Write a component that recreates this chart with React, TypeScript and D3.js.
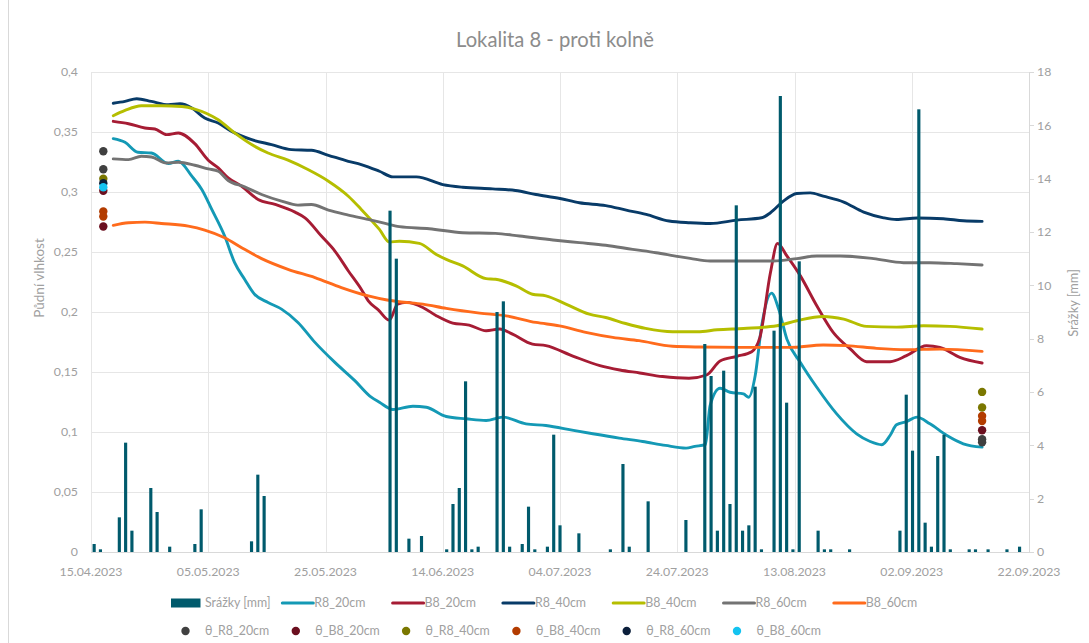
import React from 'react';
import * as d3 from 'd3';

// ---------- data ----------
const TITLE = 'Lokalita 8 - proti kolně';
const Y_LABEL = 'Půdní vlhkost';
const Y2_LABEL = 'Srážky [mm]';

const X_START = '2023-04-15';
const X_END = '2023-09-22';
const X_TICKS = ['2023-04-15', '2023-05-05', '2023-05-25', '2023-06-14', '2023-07-04', '2023-07-24', '2023-08-13', '2023-09-02', '2023-09-22'];
const Y_TICKS = [0, 0.05, 0.1, 0.15, 0.2, 0.25, 0.3, 0.35, 0.4];
const Y2_TICKS = [0, 2, 4, 6, 8, 10, 12, 14, 16, 18];

// precipitation: daily categories 15.04.2023 – 10.09.2023 (secondary category axis)
const PRECIP_FIRST = '2023-04-15';
const PRECIP_LAST = '2023-09-10';
const precipDates = [
  '2023-04-15', '2023-04-16', '2023-04-19', '2023-04-20', '2023-04-21', '2023-04-24', '2023-04-25', '2023-04-27',
  '2023-05-01', '2023-05-02', '2023-05-10', '2023-05-11', '2023-05-12',
  '2023-06-01', '2023-06-02', '2023-06-04', '2023-06-06', '2023-06-10', '2023-06-11', '2023-06-12', '2023-06-13',
  '2023-06-14', '2023-06-15', '2023-06-18', '2023-06-19', '2023-06-20', '2023-06-22', '2023-06-23', '2023-06-24',
  '2023-06-26', '2023-06-27', '2023-06-28', '2023-07-01', '2023-07-06', '2023-07-08', '2023-07-09', '2023-07-12',
  '2023-07-18', '2023-07-21', '2023-07-22', '2023-07-23', '2023-07-24', '2023-07-25', '2023-07-26', '2023-07-27',
  '2023-07-28', '2023-07-29', '2023-07-30', '2023-08-01', '2023-08-02', '2023-08-03', '2023-08-04', '2023-08-05',
  '2023-08-08', '2023-08-09', '2023-08-10', '2023-08-13', '2023-08-21', '2023-08-22', '2023-08-23', '2023-08-24',
  '2023-08-25', '2023-08-26', '2023-08-27', '2023-08-28', '2023-08-29', '2023-09-01', '2023-09-02', '2023-09-04',
  '2023-09-07', '2023-09-09',
];
const precipValues = [
  0.3, 0.1, 1.3, 4.1, 0.8, 2.4, 1.5, 0.2,
  0.3, 1.6, 0.4, 2.9, 2.1,
  12.8, 11.0, 0.5, 0.6, 0.1, 1.8, 2.4, 6.4,
  0.1, 0.2, 9.0, 9.4, 0.2, 0.3, 1.7, 0.1,
  0.2, 4.4, 1.0, 0.7, 0.1, 3.3, 0.2, 1.9,
  1.2, 7.8, 6.6, 0.8, 6.8, 1.8, 13.0, 0.8,
  1.0, 6.2, 0.1, 8.3, 17.1, 5.6, 0.1, 10.9,
  0.8, 0.1, 0.1, 0.1, 0.8, 5.9, 3.8, 16.6,
  1.1, 0.2, 3.6, 4.4, 0.1, 0.1, 0.1, 0.1,
  0.1, 0.2,
];

// soil moisture series: [days after 15.04.2023, value]
const R8_20cm: [number, number][] = [
  [3.8, 0.3445], [5.8, 0.3414], [8, 0.3331], [10.3, 0.3325], [13.2, 0.3237], [14.9, 0.3256], [17.2, 0.3132], [18.9, 0.3021],
  [20.6, 0.2855], [22.8, 0.2633], [24.5, 0.2411], [26.2, 0.2273], [27.9, 0.2148], [30.2, 0.2079], [32.5, 0.2024], [35.3, 0.1913],
  [38.2, 0.1747], [41.6, 0.158], [45, 0.1428], [47.8, 0.129], [49.2, 0.1248], [51.5, 0.1187], [54.9, 0.1215], [57.2, 0.1206],
  [60.6, 0.1129], [64, 0.111], [67.4, 0.1096], [70.2, 0.1124], [74.2, 0.1068], [77.6, 0.1054], [82.3, 0.1013], [85.6, 0.0985],
  [90.1, 0.0949], [94.1, 0.0921], [98, 0.0888], [101.5, 0.0866], [103, 0.088], [104.8, 0.0894], [105.6, 0.122], [107.3, 0.1364],
  [109, 0.1331], [111.3, 0.1317], [112.2, 0.129], [113.3, 0.147], [114.4, 0.1885], [116.1, 0.2157], [117.3, 0.2024], [118.7, 0.1774],
  [121, 0.158], [123.8, 0.1373], [127.2, 0.1151], [130.6, 0.0985], [132.9, 0.0921], [134.9, 0.0894], [136.3, 0.0971], [137.4, 0.106],
  [139.1, 0.1087], [140.9, 0.1124], [143.1, 0.1068], [146, 0.0971], [148.8, 0.0902], [152, 0.0874],
];
const B8_20cm: [number, number][] = [
  [3.8, 0.3589], [6.4, 0.3569], [9.2, 0.3533], [10.9, 0.3525], [12.9, 0.3478], [14.9, 0.3492], [17.7, 0.3403], [20, 0.3265],
  [21.7, 0.3201], [23.4, 0.3118], [25.7, 0.3048], [28.5, 0.2938], [31.4, 0.2896], [34.8, 0.2832], [36.5, 0.2785], [39.3, 0.2633],
  [41.6, 0.2508], [43.9, 0.2342], [46.1, 0.219], [47.3, 0.2093], [49, 0.2018], [50.9, 0.1932], [52.3, 0.2066], [53.8, 0.208],
  [56.6, 0.2038], [58.9, 0.1969], [61.7, 0.1908], [64.5, 0.1891], [67.4, 0.1844], [69.7, 0.1858], [71.9, 0.1816], [75.3, 0.1733],
  [77.6, 0.172], [82.3, 0.1631], [86.8, 0.1553], [90.2, 0.1517], [93.6, 0.1492], [97.5, 0.1462], [102, 0.1448], [105, 0.1475],
  [107.3, 0.1592], [110.2, 0.1631], [112.7, 0.1669], [114.1, 0.1788], [115.9, 0.2329], [117.1, 0.2572], [118.7, 0.2467], [121, 0.2301],
  [123.8, 0.2052], [126.6, 0.183], [129.5, 0.1692], [132.3, 0.1586], [136.3, 0.1586], [139.1, 0.1636], [142.5, 0.1719], [144.8, 0.1705],
  [148.2, 0.1622], [152, 0.1575],
];
const R8_40cm: [number, number][] = [
  [3.8, 0.374], [5.8, 0.3755], [7.8, 0.3777], [10.3, 0.3755], [13.2, 0.3727], [15.2, 0.3735], [17.2, 0.37], [19.4, 0.3616],
  [21.7, 0.3575], [24, 0.3505], [27.4, 0.3436], [30.8, 0.3395], [34.2, 0.3353], [37.6, 0.3348], [40.5, 0.3306], [43.9, 0.3256],
  [46.1, 0.3229], [49.2, 0.3173], [51.5, 0.3126], [55.5, 0.3126], [60, 0.3062], [63.4, 0.304], [68.5, 0.3026], [72.4, 0.3012],
  [75.9, 0.2979], [80, 0.2946], [83.3, 0.291], [87.8, 0.2887], [91.3, 0.2849], [94.7, 0.2813], [98.6, 0.2758], [102.2, 0.2744],
  [105.6, 0.2738], [110.2, 0.2766], [114.4, 0.2785], [115.9, 0.2827], [118.1, 0.2924], [120.4, 0.2987], [122.7, 0.2993], [124.9, 0.2965],
  [128.4, 0.2916], [131.8, 0.2832], [135.2, 0.2785], [137.4, 0.2771], [140.9, 0.2783], [145.4, 0.2777], [148.8, 0.276], [152, 0.2755],
];
const B8_40cm: [number, number][] = [
  [3.8, 0.3636], [5.8, 0.368], [8.6, 0.3719], [12, 0.3719], [15.5, 0.3713], [17.7, 0.3691], [21.7, 0.3602], [24.5, 0.3492],
  [27.4, 0.3395], [30.2, 0.3325], [33.6, 0.3265], [37, 0.3187], [40.5, 0.309], [43.9, 0.2965], [46.1, 0.2855], [49.2, 0.2688],
  [50.9, 0.2583], [52.6, 0.259], [56, 0.2572], [58.9, 0.248], [60.6, 0.2439], [63.4, 0.2384], [67.4, 0.2278], [69, 0.2273],
  [72.5, 0.2218], [75.3, 0.2148], [77.6, 0.2135], [81, 0.2066], [85, 0.1982], [87.8, 0.1954], [91.2, 0.1904], [94.6, 0.1863],
  [99.2, 0.1835], [103.5, 0.1835], [106.8, 0.1852], [111.3, 0.1863], [117, 0.1885], [120.4, 0.1927], [124.9, 0.1963], [128.4, 0.1941],
  [132.3, 0.188], [137.4, 0.1874], [142, 0.1885], [146.5, 0.188], [152, 0.1858],
];
const R8_60cm: [number, number][] = [
  [3.8, 0.3276], [6.4, 0.327], [8.6, 0.3298], [10.3, 0.3292], [12.9, 0.3242], [14.9, 0.3248], [17.7, 0.3223], [20, 0.3193],
  [21.7, 0.3173], [23.4, 0.3096], [26.2, 0.3043], [29.1, 0.2979], [32.5, 0.2924], [35.3, 0.2891], [37.6, 0.2896], [40.5, 0.2849],
  [43.9, 0.2808], [47.8, 0.2766], [50, 0.274], [52.6, 0.2711], [57.7, 0.2694], [63.4, 0.2661], [69, 0.2655], [73.1, 0.2633],
  [78.8, 0.26], [83.3, 0.2578], [87.8, 0.2556], [92.4, 0.2522], [96.4, 0.2494], [100.3, 0.2461], [102.2, 0.2447], [105.6, 0.2425],
  [110.7, 0.2425], [116.4, 0.2425], [120.4, 0.2445], [123.8, 0.2467], [127.8, 0.2467], [133.5, 0.2445], [138.6, 0.2411], [143.1, 0.2411],
  [147.7, 0.2403], [152, 0.2392],
];
const B8_60cm: [number, number][] = [
  [3.8, 0.2722], [6.4, 0.2744], [9.2, 0.2749], [12, 0.2738], [16.6, 0.2716], [19.4, 0.2683], [22.8, 0.2619], [25.7, 0.2536],
  [29.1, 0.2445], [33.6, 0.2356], [38.2, 0.2287], [42.7, 0.2204], [47.3, 0.2134], [50.5, 0.21], [52.6, 0.2085], [56.6, 0.2066],
  [60.6, 0.203], [66.3, 0.1991], [70.8, 0.1968], [75.9, 0.1913], [79.9, 0.1885], [84.4, 0.183], [89, 0.1788], [93.5, 0.1761],
  [99.2, 0.1714], [103.7, 0.1708], [110.7, 0.1705], [119.2, 0.1705], [124.9, 0.1725], [128.9, 0.172], [134, 0.1697], [139.1, 0.1686],
  [144.8, 0.1691], [152, 0.1672],
];

// manual measurements θ: [days after 15.04.2023, value]
const theta_R8_20cm: [number, number][] = [[2.1, 0.334], [2.1, 0.319], [152, 0.094], [152, 0.0915]];
const theta_B8_20cm: [number, number][] = [[2.1, 0.301], [2.1, 0.2712], [152, 0.1015]];
const theta_R8_40cm: [number, number][] = [[2.1, 0.311], [152, 0.1334], [152, 0.1204]];
const theta_B8_40cm: [number, number][] = [[2.1, 0.2837], [2.1, 0.2796], [152, 0.1134], [152, 0.1092]];
const theta_R8_60cm: [number, number][] = [[2.1, 0.3073]];
const theta_B8_60cm: [number, number][] = [[2.1, 0.304]];

// ---------- styling ----------
const LINES = [
  { name: 'R8_20cm', data: R8_20cm, color: '#1499b5' },
  { name: 'B8_20cm', data: B8_20cm, color: '#a61c34' },
  { name: 'R8_40cm', data: R8_40cm, color: '#083b68' },
  { name: 'B8_40cm', data: B8_40cm, color: '#b5be00' },
  { name: 'R8_60cm', data: R8_60cm, color: '#737373' },
  { name: 'B8_60cm', data: B8_60cm, color: '#ff6b1c' },
];
const POINTS = [
  { name: 'θ_R8_20cm', data: theta_R8_20cm, color: '#404040' },
  { name: 'θ_B8_20cm', data: theta_B8_20cm, color: '#6b0f1f' },
  { name: 'θ_R8_40cm', data: theta_R8_40cm, color: '#7a7700' },
  { name: 'θ_B8_40cm', data: theta_B8_40cm, color: '#b33c00' },
  { name: 'θ_R8_60cm', data: theta_R8_60cm, color: '#0b1f3b' },
  { name: 'θ_B8_60cm', data: theta_B8_60cm, color: '#14c3f0' },
];
const BAR_COLOR = '#005a6c';
const GRID = '#e6e6e6';
const AXIS = '#d9d9d9';
const TEXT = '#a0a0a0';
const FONT = "Lato, 'Open Sans', sans-serif";

const W = 1089, H = 643;
const M = { left: 91, right: 1029, top: 72, bottom: 552 };

const parse = (s: string) => {
  const [y, m, d] = s.split('-').map(Number);
  return new Date(Date.UTC(y, m - 1, d));
};
const DAY = 86400000;

export default function App() {
  const start = parse(X_START);
  const x = d3.scaleUtc().domain([start, parse(X_END)]).range([M.left, M.right]);
  const xd = (day: number) => x(new Date(start.getTime() + day * DAY));
  const y = d3.scaleLinear().domain([0, 0.4]).range([M.bottom, M.top]);
  const y2 = d3.scaleLinear().domain([0, 18]).range([M.bottom, M.top]);

  const cats = d3.utcDay.range(parse(PRECIP_FIRST), d3.utcDay.offset(parse(PRECIP_LAST), 1)).map(d3.utcFormat('%Y-%m-%d'));
  const xb = d3.scaleBand<string>().domain(cats).range([M.left, M.right]).paddingInner(0.5).paddingOuter(0.25);

  const line = d3.line<[number, number]>().x(d => xd(d[0])).y(d => y(d[1])).curve(d3.curveMonotoneX);
  const fmtDate = d3.utcFormat('%d.%m.%Y');
  const fmtY = (v: number) => (v === 0 ? '0' : String(+v.toFixed(2)).replace('.', ','));

  const legendX0 = 171, legendColW = 110.3, row1 = 603, row2 = 631;

  return (
    <svg width={W} height={H} style={{ position: 'absolute', left: 0, top: 0, background: '#fff' }} fontFamily={FONT}>
      <rect x={0} y={0} width={W} height={H} fill="#fff" />
      <line x1={8.5} x2={8.5} y1={0} y2={H} stroke={AXIS} />
      <text x={555} y={47} textAnchor="middle" fontSize={20.2} fill="#8c8c8c">{TITLE}</text>

      {/* gridlines */}
      {Y_TICKS.filter(t => t > 0).map(t => (
        <line key={'gy' + t} x1={M.left} x2={M.right} y1={Math.round(y(t)) + 0.5} y2={Math.round(y(t)) + 0.5} stroke={GRID} strokeWidth={1} />
      ))}
      {X_TICKS.slice(0, -1).map(t => (
        <line key={'gx' + t} x1={Math.round(x(parse(t))) + 0.5} x2={Math.round(x(parse(t))) + 0.5} y1={M.top} y2={M.bottom} stroke={GRID} strokeWidth={1} />
      ))}
      {/* axes */}
      <line x1={M.left} x2={M.right} y1={M.bottom + 0.5} y2={M.bottom + 0.5} stroke={AXIS} />
      <line x1={M.right + 0.5} x2={M.right + 0.5} y1={M.top} y2={M.bottom} stroke={AXIS} />
      {Y2_TICKS.map(t => (
        <line key={'t2' + t} x1={M.right} x2={M.right + 5} y1={Math.round(y2(t)) + 0.5} y2={Math.round(y2(t)) + 0.5} stroke={AXIS} />
      ))}

      {/* soil moisture lines */}
      {LINES.map(s => (
        <path key={s.name} d={line(s.data) || ''} fill="none" stroke={s.color} strokeWidth={2.9} strokeLinejoin="round" strokeLinecap="round" />
      ))}
      {/* θ points */}
      {POINTS.map(s => s.data.map((d, i) => (
        <circle key={s.name + i} cx={xd(d[0])} cy={y(d[1])} r={4.2} fill={s.color} />
      )))}
      {/* precipitation bars */}
      {precipDates.map((d, i) => (
        <rect key={'b' + d} x={xb(d)!} width={xb.bandwidth()} y={y2(precipValues[i])} height={y2(0) - y2(precipValues[i])} fill={BAR_COLOR} />
      ))}

      {/* tick labels */}
      {Y_TICKS.map(t => (
        <text key={'ly' + t} x={78} y={y(t)} dy="0.35em" textAnchor="end" fontSize={12.3} fill={TEXT}>{fmtY(t)}</text>
      ))}
      {Y2_TICKS.map(t => (
        <text key={'ly2' + t} x={1037} y={y2(t)} dy="0.35em" textAnchor="start" fontSize={12.3} fill={TEXT}>{t}</text>
      ))}
      {X_TICKS.map(t => (
        <text key={'lx' + t} x={x(parse(t))} y={572} dy="0.35em" textAnchor="middle" fontSize={12.3} fill={TEXT}>{fmtDate(parse(t))}</text>
      ))}
      <text transform={`translate(39,278) rotate(-90)`} textAnchor="middle" dy="0.35em" fontSize={13.5} fill={TEXT}>{Y_LABEL}</text>
      <text transform={`translate(1074,303) rotate(-90)`} textAnchor="middle" dy="0.35em" fontSize={12.8} fill={TEXT}>{Y2_LABEL}</text>

      {/* legend */}
      <g fontSize={12.4} fill={TEXT}>
        <rect x={legendX0} y={row1 - 4.5} width={29.5} height={9} fill={BAR_COLOR} />
        <text x={legendX0 + 34} y={row1} dy="0.35em">{Y2_LABEL}</text>
        {LINES.map((s, i) => {
          const cx = legendX0 + (i + 1) * legendColW;
          return (
            <g key={'leg' + s.name}>
              <line x1={cx + 1} x2={cx + 32} y1={row1} y2={row1} stroke={s.color} strokeWidth={3} strokeLinecap="round" />
              <text x={cx + 33} y={row1} dy="0.35em">{s.name}</text>
            </g>
          );
        })}
        {POINTS.map((s, i) => {
          const cx = legendX0 + i * legendColW;
          return (
            <g key={'legp' + s.name}>
              <circle cx={cx + 14.5} cy={row2} r={4.2} fill={s.color} />
              <text x={cx + 34} y={row2} dy="0.35em">{s.name}</text>
            </g>
          );
        })}
      </g>
    </svg>
  );
}
